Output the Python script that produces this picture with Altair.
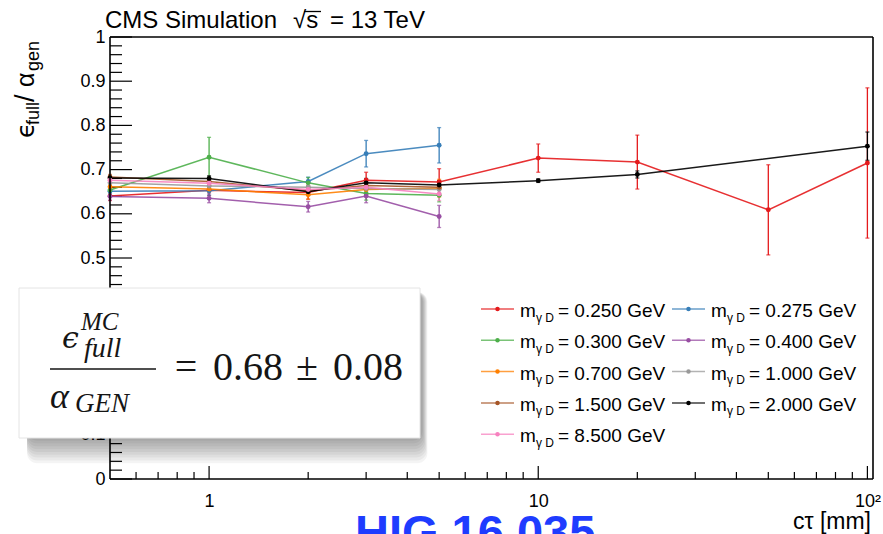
import altair as alt
import pandas as pd

# ---------------------------------------------------------------- data
# proper decay length c*tau (mm) of the dark photon for each scan
ct_short = [0.5, 1, 2, 3, 5]
ct_0250 = [0.5, 1, 2, 3, 5, 10, 20, 50, 100]
ct_2000 = [0.5, 1, 2, 3, 5, 10, 20, 100]

masses = ["0.250", "0.275", "0.300", "0.400", "0.700", "1.000", "1.500", "2.000", "8.500"]
colors = ["#e41a1c", "#377eb8", "#4daf4a", "#984ea3", "#ff7f00",
          "#999999", "#a65628", "#000000", "#f781bf"]

# epsilon_full / alpha_gen and its uncertainty per mass point
eff_0250 = [0.640, 0.653, 0.648, 0.676, 0.672, 0.726, 0.717, 0.609, 0.715]
err_0250 = [0.010, 0.012, 0.015, 0.018, 0.030, 0.032, 0.061, 0.102, 0.170]
eff_0275 = [0.651, 0.652, 0.673, 0.736, 0.755]
err_0275 = [0.008, 0.010, 0.010, 0.030, 0.040]
eff_0300 = [0.654, 0.728, 0.670, 0.646, 0.642]
err_0300 = [0.008, 0.045, 0.012, 0.015, 0.015]
eff_0400 = [0.639, 0.635, 0.616, 0.640, 0.594]
err_0400 = [0.008, 0.010, 0.012, 0.015, 0.025]
eff_0700 = [0.661, 0.656, 0.643, 0.655, 0.658]
err_0700 = [0.006, 0.008, 0.010, 0.012, 0.020]
eff_1000 = [0.670, 0.663, 0.660, 0.657, 0.655]
err_1000 = [0.006, 0.008, 0.010, 0.012, 0.015]
eff_1500 = [0.683, 0.673, 0.652, 0.664, 0.660]
err_1500 = [0.006, 0.008, 0.010, 0.012, 0.015]
eff_2000 = [0.681, 0.680, 0.650, 0.670, 0.665, 0.675, 0.689, 0.753]
err_2000 = [0.005, 0.006, 0.008, 0.010, 0.010, 0.004, 0.008, 0.032]
eff_8500 = [0.676, 0.669, 0.655, 0.660, 0.645]
err_8500 = [0.006, 0.008, 0.010, 0.012, 0.015]

series = {
    "0.250": (ct_0250, eff_0250, err_0250),
    "0.275": (ct_short, eff_0275, err_0275),
    "0.300": (ct_short, eff_0300, err_0300),
    "0.400": (ct_short, eff_0400, err_0400),
    "0.700": (ct_short, eff_0700, err_0700),
    "1.000": (ct_short, eff_1000, err_1000),
    "1.500": (ct_short, eff_1500, err_1500),
    "2.000": (ct_2000, eff_2000, err_2000),
    "8.500": (ct_short, eff_8500, err_8500),
}

# axis ticks
x_major = [1, 10, 100]
x_minor = [0.6, 0.7, 0.8, 0.9, 2, 3, 4, 5, 6, 7, 8, 9, 20, 30, 40, 50, 60, 70, 80, 90]
y_major = [round(i * 0.1, 1) for i in range(11)]
y_minor = [round(i * 0.02, 2) for i in range(51) if i % 5 != 0]

rows = []
for order, m in enumerate(masses):
    cts, effs, errs = series[m]
    for c, e, s in zip(cts, effs, errs):
        rows.append({"mass": m, "order": order, "ct": c, "eff": e,
                     "lo": e - s, "hi": e + s})
df = pd.DataFrame(rows)

# ---------------------------------------------------------------- layout
W, H = 763, 442
PAD_L, PAD_T, PAD_R, PAD_B = 110, 37, 10, 55
FONT = "Liberation Sans"
SERIF = "Liberation Serif"

xscale = alt.Scale(type="log", domain=[0.5, 104], nice=False)
yscale = alt.Scale(domain=[0, 1], nice=False, zero=False)
cscale = alt.Scale(domain=masses, range=colors)

x_axis = alt.Axis(values=x_major, ticks=False, domain=False, grid=False, title=None,
                  labelFontSize=18, labelPadding=13, labelFont=FONT, labelColor="black",
                  labelFlush=False,
                  labelExpr="datum.value == 100 ? '10\u00b2' : format(datum.value, 'd')")
y_axis = alt.Axis(values=y_major, ticks=False, domain=False, grid=False, title=None,
                  labelFontSize=18, labelPadding=5, labelFont=FONT, labelColor="black",
                  labelFlush=False,
                  labelExpr="datum.value == 0 ? '0' : datum.value == 1 ? '1' : format(datum.value, '.1f')")


def X(field):
    return alt.X(field, type="quantitative", scale=xscale, axis=x_axis)


def Y(field):
    return alt.Y(field, type="quantitative", scale=yscale, axis=y_axis)


COLOR = alt.Color("mass:N", scale=cscale, legend=None)

one = pd.DataFrame({"k": [0]})


def at(x, y):
    """page coordinates -> plot-area pixel values"""
    return dict(x=alt.value(x - PAD_L), y=alt.value(y - PAD_T))


def text(t, x, y, **kw):
    kw.setdefault("font", FONT)
    kw.setdefault("color", "black")
    kw.setdefault("align", "left")
    kw.setdefault("baseline", "alphabetic")
    return alt.Chart(one).mark_text(text=t, **kw).encode(**at(x, y))


def hline(x1, x2, y, color="black", width=1.5, opacity=1.0):
    return alt.Chart(one).mark_rule(color=color, strokeWidth=width, opacity=opacity).encode(
        x=alt.value(x1 - PAD_L), x2=alt.value(x2 - PAD_L), y=alt.value(y - PAD_T))


# ---------------------------------------------------------------- data marks
base = alt.Chart(df)

lines = base.mark_line(strokeWidth=1.5, opacity=0.9).encode(
    x=X("ct"), y=Y("eff"), color=COLOR, detail="mass:N", order="ct:Q")
bars = base.mark_rule(strokeWidth=1.3).encode(
    x=X("ct"), y=Y("lo"), y2="hi:Q", color=COLOR)
caps_lo = base.mark_tick(orient="horizontal", size=4, thickness=1.3).encode(
    x=X("ct"), y=Y("lo"), color=COLOR)
caps_hi = base.mark_tick(orient="horizontal", size=4, thickness=1.3).encode(
    x=X("ct"), y=Y("hi"), color=COLOR)
points = base.mark_circle(size=24, opacity=1).encode(
    x=X("ct"), y=Y("eff"), color=COLOR)


# inward ROOT-style tick marks
def xticks(vals, length):
    return alt.Chart(pd.DataFrame({"v": vals})).mark_rule(color="black", strokeWidth=1.2).encode(
        x=X("v"), y=alt.value(H), y2=alt.value(H - length))


def yticks(vals, length):
    return alt.Chart(pd.DataFrame({"v": vals})).mark_rule(color="black", strokeWidth=1.2).encode(
        y=Y("v"), x=alt.value(0), x2=alt.value(length))


ticks = [xticks(x_major, 13), xticks(x_minor, 7), yticks(y_major, 22), yticks(y_minor, 12)]

frame = [
    alt.Chart(one).mark_rule(color="black", strokeWidth=1.6).encode(
        x=alt.value(0), x2=alt.value(W), y=alt.value(0)),
    alt.Chart(one).mark_rule(color="black", strokeWidth=1.6).encode(
        x=alt.value(0), x2=alt.value(W), y=alt.value(H)),
    alt.Chart(one).mark_rule(color="black", strokeWidth=1.6).encode(
        x=alt.value(0), y=alt.value(0), y2=alt.value(H)),
    alt.Chart(one).mark_rule(color="black", strokeWidth=1.6).encode(
        x=alt.value(W), y=alt.value(0), y2=alt.value(H)),
]

# ---------------------------------------------------------------- legend
legend = []
LEG_X = [481, 672]
LEG_Y0, LEG_DY = 309, 31.3
for i, m in enumerate(masses):
    cx = LEG_X[i % 2]
    cy = LEG_Y0 + (i // 2) * LEG_DY
    legend.append(hline(cx, cx + 33, cy, color=colors[i], width=1.5, opacity=0.75))
    legend.append(alt.Chart(one).mark_circle(size=20, color=colors[i], opacity=1).encode(
        **at(cx + 16.5, cy)))
    legend.append(text("m", cx + 39, cy + 8, fontSize=19))
    legend.append(text("\u03b3 D", cx + 55, cy + 12.5, fontSize=12))
    legend.append(text("= " + m + " GeV", cx + 77, cy + 8, fontSize=19))

# ---------------------------------------------------------------- titles
titles = [
    text("CMS Simulation", 105, 28, fontSize=24),
    text("\u221as", 293, 28, fontSize=24),
    hline(304, 321, 11.5, width=1.3),
    text("= 13 TeV", 330, 28, fontSize=24),
    text("c\u03c4 [mm]", 871, 529, fontSize=23, align="right"),
    # y title: epsilon_full / alpha_gen, reading upward
    text("\u03f5", 34, 138, fontSize=25, angle=270, font="DejaVu Sans"),
    text("full", 39, 125, fontSize=18, angle=270),
    text("/", 34, 102, fontSize=27, angle=270),
    text("\u03b1", 34, 87, fontSize=25, angle=270),
    text("gen", 39, 71, fontSize=18, angle=270),
    text("HIG 16 035", 355, 548, fontSize=47, fontWeight="bold", color="#1e3cff"),
]

# ---------------------------------------------------------------- result box
BX1, BX2, BY1, BY2 = 19, 420, 288, 438
shadow = []
for k in range(1, 10):
    shadow.append(alt.Chart(one).mark_rect(color="#000000", opacity=0.045, cornerRadius=10).encode(
        x=alt.value(BX1 + 8 - PAD_L), x2=alt.value(BX2 + 2 + k * 0.6 - PAD_L),
        y=alt.value(BY1 + 4 - PAD_T), y2=alt.value(BY2 + k * 2.8 - PAD_T)))
box = alt.Chart(one).mark_rect(color="white", stroke="#e4e4e4", strokeWidth=1).encode(
    x=alt.value(BX1 - PAD_L), x2=alt.value(BX2 - PAD_L),
    y=alt.value(BY1 - PAD_T), y2=alt.value(BY2 - PAD_T))

INK = "#151515"
formula = [
    text("\u03f5", 62, 348, fontSize=30, font="DejaVu Serif", fontStyle="italic", color=INK),
    text("MC", 81, 330, fontSize=25, font=SERIF, fontStyle="italic", color=INK),
    text("full", 84, 357, fontSize=28, font=SERIF, fontStyle="italic", color=INK),
    hline(50, 156, 369, color=INK, width=1.6),
    text("\u03b1", 50, 408, fontSize=36, font=SERIF, fontStyle="italic", color=INK),
    text("GEN", 75, 412, fontSize=27, font=SERIF, fontStyle="italic", color=INK),
    text("=", 186, 380, fontSize=40, font=SERIF, align="center", color=INK),
    text("0.68", 213, 380, fontSize=40, font=SERIF, color=INK),
    text("\u00b1", 307, 380, fontSize=40, font=SERIF, align="center", color=INK),
    text("0.08", 333, 380, fontSize=40, font=SERIF, color=INK),
]

chart = alt.layer(
    *ticks, lines, bars, caps_lo, caps_hi, points, *frame,
    *legend, *titles, *shadow, box, *formula,
).properties(
    width=W, height=H,
    autosize=alt.AutoSizeParams(type="none"),
    padding={"left": PAD_L, "top": PAD_T, "right": PAD_R, "bottom": PAD_B},
    background="white",
).configure_view(stroke=None)

chart.save("out.html", embed_options={"renderer": "svg", "actions": False})
